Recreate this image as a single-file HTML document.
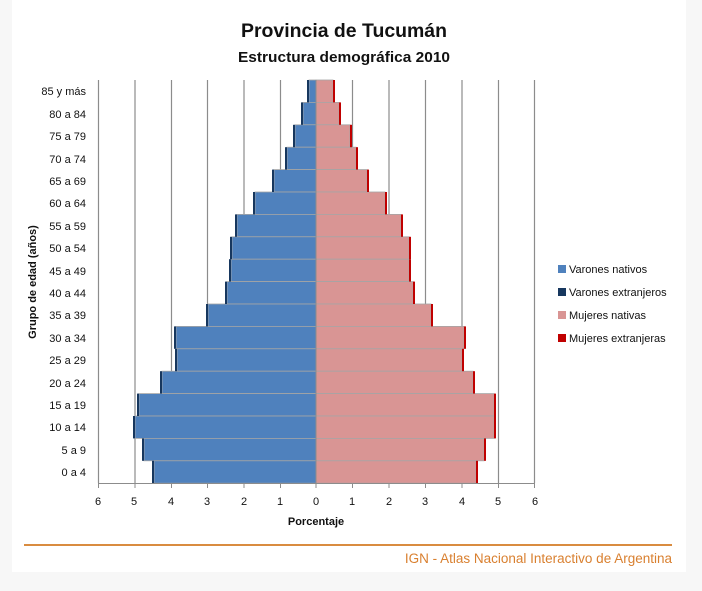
<!DOCTYPE html>
<html><head><meta charset="utf-8"><style>
html,body{margin:0;padding:0;background:#f7f7f7;}
svg{display:block;font-family:"Liberation Sans",sans-serif;}
</style></head><body>
<svg width="702" height="591" viewBox="0 0 702 591" xmlns="http://www.w3.org/2000/svg">
<rect x="0" y="0" width="702" height="591" fill="#f7f7f7"/>
<rect x="12" y="0" width="674" height="572" fill="#fff"/>
<text x="344" y="37" text-anchor="middle" font-size="19" font-weight="bold" textLength="206" lengthAdjust="spacingAndGlyphs" fill="#111">Provincia de Tucumán</text>
<text x="344" y="62" text-anchor="middle" font-size="15" font-weight="bold" textLength="212" lengthAdjust="spacingAndGlyphs" fill="#111">Estructura demográfica 2010</text>
<g stroke="#8c8c8c" stroke-width="1.2">
<line x1="98.5" y1="80" x2="98.5" y2="483"/><line x1="135" y1="80" x2="135" y2="483"/><line x1="171.5" y1="80" x2="171.5" y2="483"/><line x1="207.5" y1="80" x2="207.5" y2="483"/><line x1="244" y1="80" x2="244" y2="483"/><line x1="280.5" y1="80" x2="280.5" y2="483"/>
<line x1="352.5" y1="80" x2="352.5" y2="483"/><line x1="389" y1="80" x2="389" y2="483"/><line x1="425.5" y1="80" x2="425.5" y2="483"/><line x1="462" y1="80" x2="462" y2="483"/><line x1="498.5" y1="80" x2="498.5" y2="483"/><line x1="534.5" y1="80" x2="534.5" y2="483"/>
</g>
<g id="bars" stroke="#a5a5a5" stroke-width="0.8">
<!-- row: y, male left L, female right R -->
<rect x="309" y="80" width="7" height="22.4" fill="#4f81bd"/><rect x="316" y="80" width="17" height="22.4" fill="#d99594"/>
<rect x="303" y="102.4" width="13" height="22.4" fill="#4f81bd"/><rect x="316" y="102.4" width="23" height="22.4" fill="#d99594"/>
<rect x="295" y="124.8" width="21" height="22.4" fill="#4f81bd"/><rect x="316" y="124.8" width="34" height="22.4" fill="#d99594"/>
<rect x="287" y="147.2" width="29" height="22.4" fill="#4f81bd"/><rect x="316" y="147.2" width="40" height="22.4" fill="#d99594"/>
<rect x="274" y="169.6" width="42" height="22.4" fill="#4f81bd"/><rect x="316" y="169.6" width="51" height="22.4" fill="#d99594"/>
<rect x="255" y="192" width="61" height="22.4" fill="#4f81bd"/><rect x="316" y="192" width="69" height="22.4" fill="#d99594"/>
<rect x="237" y="214.4" width="79" height="22.4" fill="#4f81bd"/><rect x="316" y="214.4" width="85" height="22.4" fill="#d99594"/>
<rect x="232" y="236.8" width="84" height="22.4" fill="#4f81bd"/><rect x="316" y="236.8" width="93" height="22.4" fill="#d99594"/>
<rect x="231" y="259.2" width="85" height="22.4" fill="#4f81bd"/><rect x="316" y="259.2" width="93" height="22.4" fill="#d99594"/>
<rect x="227" y="281.6" width="89" height="22.4" fill="#4f81bd"/><rect x="316" y="281.6" width="97" height="22.4" fill="#d99594"/>
<rect x="208" y="304" width="108" height="22.4" fill="#4f81bd"/><rect x="316" y="304" width="115" height="22.4" fill="#d99594"/>
<rect x="176" y="326.4" width="140" height="22.4" fill="#4f81bd"/><rect x="316" y="326.4" width="148" height="22.4" fill="#d99594"/>
<rect x="177" y="348.8" width="139" height="22.4" fill="#4f81bd"/><rect x="316" y="348.8" width="146" height="22.4" fill="#d99594"/>
<rect x="162" y="371.2" width="154" height="22.4" fill="#4f81bd"/><rect x="316" y="371.2" width="157" height="22.4" fill="#d99594"/>
<rect x="139" y="393.6" width="177" height="22.4" fill="#4f81bd"/><rect x="316" y="393.6" width="178" height="22.4" fill="#d99594"/>
<rect x="135" y="416" width="181" height="22.4" fill="#4f81bd"/><rect x="316" y="416" width="178" height="22.4" fill="#d99594"/>
<rect x="144" y="438.4" width="172" height="22.4" fill="#4f81bd"/><rect x="316" y="438.4" width="168" height="22.4" fill="#d99594"/>
<rect x="154" y="460.8" width="162" height="22.4" fill="#4f81bd"/><rect x="316" y="460.8" width="160" height="22.4" fill="#d99594"/>
</g>
<g>
<rect x="307" y="80" width="2" height="22.4" fill="#17375e"/><rect x="333" y="80" width="2" height="22.4" fill="#c00000"/>
<rect x="301" y="102.4" width="2" height="22.4" fill="#17375e"/><rect x="339" y="102.4" width="2" height="22.4" fill="#c00000"/>
<rect x="293" y="124.8" width="2" height="22.4" fill="#17375e"/><rect x="350" y="124.8" width="2" height="22.4" fill="#c00000"/>
<rect x="285" y="147.2" width="2" height="22.4" fill="#17375e"/><rect x="356" y="147.2" width="2" height="22.4" fill="#c00000"/>
<rect x="272" y="169.6" width="2" height="22.4" fill="#17375e"/><rect x="367" y="169.6" width="2" height="22.4" fill="#c00000"/>
<rect x="253" y="192" width="2" height="22.4" fill="#17375e"/><rect x="385" y="192" width="2" height="22.4" fill="#c00000"/>
<rect x="235" y="214.4" width="2" height="22.4" fill="#17375e"/><rect x="401" y="214.4" width="2" height="22.4" fill="#c00000"/>
<rect x="230" y="236.8" width="2" height="22.4" fill="#17375e"/><rect x="409" y="236.8" width="2" height="22.4" fill="#c00000"/>
<rect x="229" y="259.2" width="2" height="22.4" fill="#17375e"/><rect x="409" y="259.2" width="2" height="22.4" fill="#c00000"/>
<rect x="225" y="281.6" width="2" height="22.4" fill="#17375e"/><rect x="413" y="281.6" width="2" height="22.4" fill="#c00000"/>
<rect x="206" y="304" width="2" height="22.4" fill="#17375e"/><rect x="431" y="304" width="2" height="22.4" fill="#c00000"/>
<rect x="174" y="326.4" width="2" height="22.4" fill="#17375e"/><rect x="464" y="326.4" width="2" height="22.4" fill="#c00000"/>
<rect x="175" y="348.8" width="2" height="22.4" fill="#17375e"/><rect x="462" y="348.8" width="2" height="22.4" fill="#c00000"/>
<rect x="160" y="371.2" width="2" height="22.4" fill="#17375e"/><rect x="473" y="371.2" width="2" height="22.4" fill="#c00000"/>
<rect x="137" y="393.6" width="2" height="22.4" fill="#17375e"/><rect x="494" y="393.6" width="2" height="22.4" fill="#c00000"/>
<rect x="133" y="416" width="2" height="22.4" fill="#17375e"/><rect x="494" y="416" width="2" height="22.4" fill="#c00000"/>
<rect x="142" y="438.4" width="2" height="22.4" fill="#17375e"/><rect x="484" y="438.4" width="2" height="22.4" fill="#c00000"/>
<rect x="152" y="460.8" width="2" height="22.4" fill="#17375e"/><rect x="476" y="460.8" width="2" height="22.4" fill="#c00000"/>
</g>
<line x1="316" y1="80" x2="316" y2="483" stroke="#8c8c8c" stroke-width="1"/>
<g stroke="#8c8c8c" stroke-width="1">
<line x1="98" y1="483.5" x2="535" y2="483.5"/>
<line x1="98.5" y1="483" x2="98.5" y2="488"/><line x1="135" y1="483" x2="135" y2="488"/><line x1="171.5" y1="483" x2="171.5" y2="488"/><line x1="207.5" y1="483" x2="207.5" y2="488"/><line x1="244" y1="483" x2="244" y2="488"/><line x1="280.5" y1="483" x2="280.5" y2="488"/><line x1="316" y1="483" x2="316" y2="488"/><line x1="352.5" y1="483" x2="352.5" y2="488"/><line x1="389" y1="483" x2="389" y2="488"/><line x1="425.5" y1="483" x2="425.5" y2="488"/><line x1="462" y1="483" x2="462" y2="488"/><line x1="498.5" y1="483" x2="498.5" y2="488"/><line x1="534.5" y1="483" x2="534.5" y2="488"/>
</g>
<g font-size="11" fill="#111" text-anchor="middle">
<text x="98" y="505">6</text><text x="134" y="505">5</text><text x="171" y="505">4</text><text x="207" y="505">3</text><text x="244" y="505">2</text><text x="280" y="505">1</text><text x="316" y="505">0</text><text x="352" y="505">1</text><text x="389" y="505">2</text><text x="425" y="505">3</text><text x="462" y="505">4</text><text x="498" y="505">5</text><text x="535" y="505">6</text>
<text x="316" y="525" font-weight="bold" font-size="11">Porcentaje</text>
</g>
<g font-size="11" fill="#111" text-anchor="end">
<text x="86" y="95">85 y más</text><text x="86" y="118">80 a 84</text><text x="86" y="140">75 a 79</text><text x="86" y="163">70 a 74</text><text x="86" y="185">65 a 69</text><text x="86" y="207">60 a 64</text><text x="86" y="230">55 a 59</text><text x="86" y="252">50 a 54</text><text x="86" y="275">45 a 49</text><text x="86" y="297">40 a 44</text><text x="86" y="319">35 a 39</text><text x="86" y="342">30 a 34</text><text x="86" y="364">25 a 29</text><text x="86" y="387">20 a 24</text><text x="86" y="409">15 a 19</text><text x="86" y="431">10 a 14</text><text x="86" y="454">5 a 9</text><text x="86" y="476">0 a 4</text>
</g>
<text transform="translate(36,282) rotate(-90)" text-anchor="middle" font-size="11" font-weight="bold" fill="#111">Grupo de edad (años)</text>
<g font-size="11" fill="#111">
<rect x="558" y="265" width="8" height="8" fill="#4f81bd"/><text x="569" y="273">Varones nativos</text>
<rect x="558" y="288" width="8" height="8" fill="#17375e"/><text x="569" y="296">Varones extranjeros</text>
<rect x="558" y="311" width="8" height="8" fill="#d99594"/><text x="569" y="319">Mujeres nativas</text>
<rect x="558" y="334" width="8" height="8" fill="#c00000"/><text x="569" y="342">Mujeres extranjeras</text>
</g>
<line x1="24" y1="545" x2="672" y2="545" stroke="#d98c40" stroke-width="2"/>
<text x="672" y="563" text-anchor="end" font-size="13.5" fill="#d98030">IGN - Atlas Nacional Interactivo de Argentina</text>
</svg>
</body></html>
